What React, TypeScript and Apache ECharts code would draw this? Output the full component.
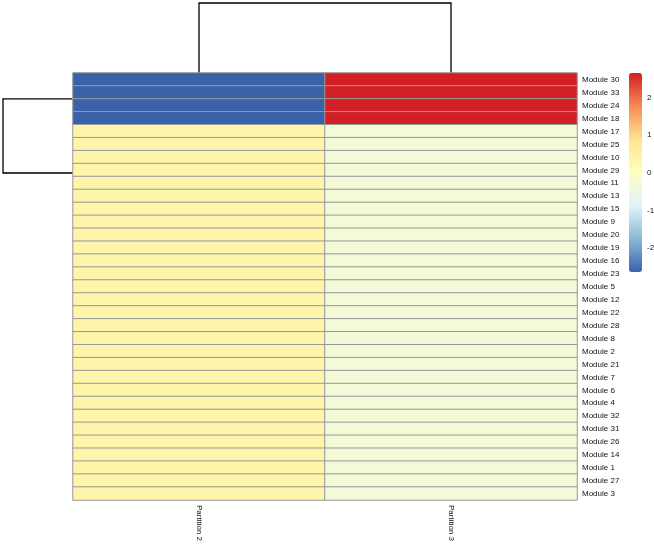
import React, { useEffect, useRef } from "react";
import * as echarts from "echarts";

const partitions = ["Partition 2", "Partition 3"];
const modules = [
  "Module 30", "Module 33", "Module 24", "Module 18", "Module 17", "Module 25",
  "Module 10", "Module 29", "Module 11", "Module 13", "Module 15", "Module 9",
  "Module 20", "Module 19", "Module 16", "Module 23", "Module 5", "Module 12",
  "Module 22", "Module 28", "Module 8", "Module 2", "Module 21", "Module 7",
  "Module 6", "Module 4", "Module 32", "Module 31", "Module 26", "Module 14",
  "Module 1", "Module 27", "Module 3",
];
const partition2Values = [
  -2.65, -2.65, -2.65, -2.65, 0.37, 0.37, 0.37, 0.37, 0.37, 0.37, 0.37, 0.37,
  0.37, 0.37, 0.37, 0.37, 0.37, 0.37, 0.37, 0.37, 0.37, 0.37, 0.37, 0.37,
  0.37, 0.37, 0.37, 0.37, 0.37, 0.37, 0.37, 0.37, 0.37,
];
const partition3Values = [
  2.65, 2.65, 2.65, 2.65, -0.37, -0.37, -0.37, -0.37, -0.37, -0.37, -0.37, -0.37,
  -0.37, -0.37, -0.37, -0.37, -0.37, -0.37, -0.37, -0.37, -0.37, -0.37, -0.37, -0.37,
  -0.37, -0.37, -0.37, -0.37, -0.37, -0.37, -0.37, -0.37, -0.37,
];
const legendTicks = [2, 1, 0, -1, -2];
const scaleMin = -2.65;
const scaleMax = 2.65;
const palette = ["#3a62a9", "#8ab8d8", "#e0f3f8", "#ffffbf", "#fde48e", "#f88a55", "#d21f25"];
// row dendrogram: cluster A spans rows 0..3, cluster B node position (in row units)
const rowClusterA = [0, 3];
const rowClusterBPos = 7.23;

export default function App() {
  const ref = useRef<HTMLDivElement>(null);
  useEffect(() => {
    const chart = echarts.init(ref.current!, null, { renderer: "svg" });
    const data: number[][] = [];
    modules.forEach((_, i) => {
      data.push([0, i, partition2Values[i]]);
      data.push([1, i, partition3Values[i]]);
    });
    const gridTop = 73, gridLeft = 73, gridW = 504, gridH = 427;
    const barTop = 73, barH = 199, barLeft = 629, barW = 13;
    chart.setOption({
      animation: false,
      textStyle: { fontFamily: "Liberation Sans, Arial, sans-serif" },
      grid: { left: gridLeft, top: gridTop, width: gridW, height: gridH },
      xAxis: {
        type: "category",
        data: partitions,
        position: "bottom",
        axisLine: { show: false },
        axisTick: { show: false },
        splitLine: { show: false },
        axisLabel: { rotate: -90, fontSize: 8, color: "#111", margin: 5 },
      },
      yAxis: {
        type: "category",
        data: modules,
        inverse: true,
        position: "right",
        axisLine: { show: false },
        axisTick: { show: false },
        splitLine: { show: false },
        axisLabel: { fontSize: 8, color: "#111", margin: 5 },
      },
      visualMap: {
        type: "continuous",
        min: scaleMin,
        max: scaleMax,
        calculable: false,
        left: barLeft,
        top: barTop,
        padding: 0,
        itemWidth: barW,
        itemHeight: barH,
        inRange: { color: palette },
        text: ["", ""],
        showLabel: false,
      },
      series: [
        {
          type: "heatmap",
          data,
          itemStyle: { borderColor: "#999999", borderWidth: 1 },
          emphasis: { disabled: true },
        },
      ],
    });

    const pt = (x: number, y: number) => chart.convertToPixel({ gridIndex: 0 }, [x, y]) as number[];
    const colCenters = partitions.map((_, i) => pt(i, 0)[0]);
    const rowAY = (pt(0, rowClusterA[0])[1] + pt(0, rowClusterA[1])[1]) / 2;
    const bBase = Math.floor(rowClusterBPos);
    const y0 = pt(0, bBase)[1];
    const y1 = pt(0, bBase + 1)[1];
    const rowBY = y0 + (y1 - y0) * (rowClusterBPos - bBase);
    const lineStyle = { stroke: "#000", lineWidth: 1.3, fill: null };
    const dendroTop = 3;
    const dendroLeft = 3;
    const graphics: any[] = [
      { type: "polyline", shape: { points: [[colCenters[0], gridTop], [colCenters[0], dendroTop], [colCenters[1], dendroTop], [colCenters[1], gridTop]] }, style: lineStyle },
      { type: "polyline", shape: { points: [[gridLeft, rowAY], [dendroLeft, rowAY], [dendroLeft, rowBY], [gridLeft, rowBY]] }, style: lineStyle },
    ];
    legendTicks.forEach((v) => {
      const y = barTop + ((scaleMax - v) / (scaleMax - scaleMin)) * barH;
      graphics.push({
        type: "text",
        x: 647,
        y,
        style: { text: String(v), fontSize: 8, fill: "#111", textVerticalAlign: "middle", textAlign: "left", fontFamily: "Liberation Sans, Arial, sans-serif" },
      });
    });
    chart.setOption({ graphic: graphics });
    return () => chart.dispose();
  }, []);
  return <div ref={ref} style={{ position: "fixed", left: 0, top: 0, width: 654, height: 550 }} />;
}
